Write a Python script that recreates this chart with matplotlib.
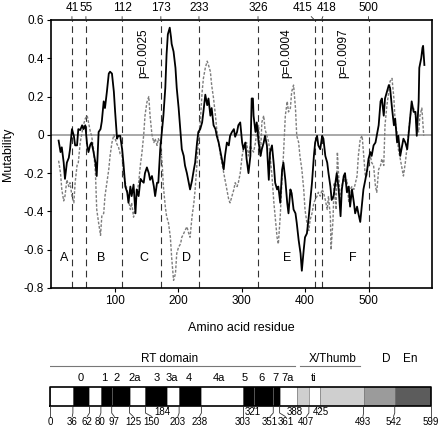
import matplotlib
matplotlib.use('Agg')
import matplotlib.pyplot as plt

plt.rcParams['font.family'] = ['Liberation Sans', 'DejaVu Sans']

# mutability profiles (residue, value)
black_res = [12, 15, 17, 20, 22, 25, 28, 30, 33, 36, 38, 41, 43, 46, 49, 51, 54, 57, 59, 62,
             64, 67, 70, 72, 75, 78, 80, 83, 85, 88, 91, 93, 96, 99, 101, 104, 106, 109, 112, 114,
             117, 120, 122, 125, 127, 130, 133, 135, 138, 141, 143, 146, 148, 151, 154, 156, 159, 162, 164, 167,
             169, 172, 175, 177, 180, 182, 184, 187, 189, 190, 193, 196, 198, 201, 204, 206, 209, 211, 214, 217,
             219, 222, 225, 227, 230, 232, 235, 238, 240, 243, 246, 248, 251, 253, 256, 259, 261, 264, 267, 269,
             272, 274, 277, 280, 282, 285, 288, 290, 293, 295, 298, 301, 303, 306, 308, 311, 314, 316, 318, 319,
             322, 324, 327, 330, 332, 335, 337, 340, 343, 345, 348, 351, 353, 356, 358, 361, 364, 366, 369, 372,
             374, 377, 379, 382, 385, 387, 390, 393, 395, 398, 400, 403, 406, 408, 411, 414, 416, 419, 421, 424,
             427, 429, 432, 435, 437, 440, 442, 445, 448, 450, 453, 456, 458, 461, 463, 466, 469, 471, 474, 477,
             479, 482, 484, 487, 490, 492, 495, 498, 500, 503, 505, 508, 511, 513, 516, 519, 521, 524, 526, 529,
             532, 534, 537, 540, 542, 545, 547, 550, 553, 555, 558, 561, 563, 566, 568, 571, 574, 576, 579, 580,
             583, 585, 586, 588]
black_val = [-0.03, -0.09, -0.065, -0.145, -0.23, -0.145, -0.12, -0.075, 0.03, -0.005, -0.055, -0.055, 0.03, 0.025, 0.05, 0.03, 0.05, -0.055, -0.09, -0.05,
             -0.04, -0.09, -0.145, -0.215, 0.015, 0.03, 0.07, 0.175, 0.14, 0.225, 0.32, 0.33, 0.32, 0.225, 0.12, -0.02, -0.005, -0.005, -0.075, -0.145,
             -0.27, -0.3, -0.355, -0.27, -0.32, -0.26, -0.41, -0.285, -0.32, -0.23, -0.24, -0.25, -0.2, -0.17, -0.2, -0.235, -0.215, -0.27, -0.32, -0.25,
             -0.25, -0.075, 0.03, 0.1, 0.245, 0.42, 0.525, 0.56, 0.51, 0.475, 0.435, 0.35, 0.245, 0.14, 0.015, -0.075, -0.11, -0.16, -0.2, -0.25,
             -0.285, -0.24, -0.18, -0.145, -0.04, 0.015, 0.03, 0.065, 0.12, 0.21, 0.155, 0.19, 0.1, 0.14, 0.05, 0.03, -0.005, -0.04, -0.09, -0.125,
             -0.18, -0.11, -0.04, -0.055, -0.005, 0.015, 0.03, -0.01, 0.015, 0.05, 0.065, -0.04, -0.075, -0.04, -0.125, -0.2, -0.11, 0.19, 0.19, 0.1,
             0.015, 0.065, -0.04, -0.11, -0.075, -0.04, -0.005, -0.055, -0.235, -0.09, -0.055, -0.16, -0.25, -0.285, -0.27, -0.355, -0.18, -0.145, -0.235, -0.355,
             -0.41, -0.285, -0.305, -0.39, -0.41, -0.46, -0.55, -0.62, -0.71, -0.6, -0.535, -0.515, -0.425, -0.355, -0.25, -0.11, -0.04, -0.005, -0.055, -0.075,
             -0.005, -0.02, -0.11, -0.145, -0.2, -0.27, -0.34, -0.32, -0.25, -0.2, -0.285, -0.425, -0.285, -0.215, -0.2, -0.3, -0.27, -0.375, -0.285, -0.355,
             -0.41, -0.375, -0.41, -0.455, -0.355, -0.285, -0.235, -0.18, -0.125, -0.09, -0.11, -0.055, -0.04, -0.005, 0.05, 0.175, 0.19, 0.1, 0.19, 0.225,
             0.26, 0.245, 0.14, 0.05, 0.085, -0.04, -0.005, -0.11, -0.055, -0.02, -0.04, -0.075, -0.005, 0.1, 0.175, 0.12, 0.12, -0.005, 0.175, 0.35,
             0.4, 0.455, 0.465, 0.365]

gray_res = [12, 15, 17, 20, 22, 25, 28, 30, 33, 36, 38, 41, 43, 46, 49, 51, 54, 57, 59, 62,
            64, 67, 70, 72, 75, 78, 80, 83, 85, 88, 91, 93, 96, 99, 101, 104, 106, 109, 112, 114,
            117, 120, 122, 125, 127, 130, 133, 135, 138, 141, 143, 146, 148, 151, 154, 156, 159, 162, 164, 167,
            169, 172, 175, 177, 180, 182, 185, 188, 190, 193, 196, 198, 201, 204, 206, 209, 211, 214, 217, 219,
            222, 225, 227, 230, 232, 235, 238, 240, 243, 246, 248, 251, 253, 256, 259, 261, 264, 267, 269, 272,
            274, 277, 280, 282, 285, 288, 290, 293, 295, 298, 301, 303, 306, 308, 311, 314, 316, 319, 322, 324,
            327, 330, 332, 335, 337, 340, 343, 345, 348, 351, 353, 356, 358, 361, 364, 366, 369, 372, 374, 377,
            379, 382, 385, 387, 390, 392, 395, 398, 400, 403, 406, 408, 411, 414, 416, 419, 421, 424, 427, 429,
            432, 435, 437, 440, 441, 444, 446, 449, 451, 453, 456, 458, 461, 463, 466, 469, 471, 474, 477, 482,
            484, 487, 490, 492, 495, 497, 500, 503, 505, 508, 511, 513, 516, 519, 521, 524, 526, 529, 532, 534,
            537, 540, 542, 545, 547, 550, 553, 555, 558, 561, 563, 566, 568, 571, 574, 576, 579, 581, 584, 587]
gray_val = [-0.135, -0.2, -0.285, -0.345, -0.32, -0.235, -0.27, -0.25, -0.32, -0.355, -0.25, -0.16, -0.145, -0.04, 0.015, 0.05, 0.085, 0.1, 0.065, 0.015,
            -0.005, -0.075, -0.2, -0.39, -0.46, -0.525, -0.425, -0.41, -0.32, -0.25, -0.18, -0.11, -0.04, 0.0, -0.02, -0.05, -0.06, -0.1, -0.11, -0.2,
            -0.25, -0.29, -0.34, -0.39, -0.355, -0.43, -0.37, -0.32, -0.25, -0.15, -0.1, 0.0, 0.1, 0.17, 0.2, 0.1, 0.0, -0.04, -0.02, -0.055,
            -0.02, -0.04, -0.145, -0.27, -0.375, -0.425, -0.46, -0.535, -0.64, -0.76, -0.725, -0.62, -0.585, -0.57, -0.535, -0.515, -0.5, -0.48, -0.515, -0.535,
            -0.43, -0.355, -0.285, -0.145, -0.04, 0.065, 0.225, 0.295, 0.35, 0.385, 0.365, 0.33, 0.26, 0.19, 0.1, 0.03, -0.04, -0.11, -0.145, -0.2,
            -0.235, -0.285, -0.34, -0.355, -0.32, -0.285, -0.25, -0.27, -0.25, -0.2, -0.11, -0.075, -0.055, -0.04, -0.11, -0.055, -0.075, -0.09, -0.04, 0.015,
            0.05, -0.11, 0.065, 0.1, 0.03, -0.005, -0.04, -0.11, -0.215, -0.355, -0.425, -0.535, -0.57, -0.425, -0.215, -0.11, 0.1, 0.175, 0.12, 0.14,
            0.225, 0.26, 0.14, -0.005, -0.04, -0.11, -0.18, -0.285, -0.39, -0.46, -0.5, -0.445, -0.41, -0.355, -0.34, -0.32, -0.3, -0.32, -0.285, -0.3,
            -0.34, -0.39, -0.32, -0.43, -0.6, -0.45, -0.25, -0.39, -0.09, -0.215, -0.355, -0.27, -0.215, -0.25, -0.235, -0.355, -0.285, -0.27, -0.285, -0.215,
            -0.11, -0.02, -0.005, -0.09, -0.215, -0.215, -0.145, -0.11, -0.145, -0.16, -0.27, -0.3, -0.18, -0.16, -0.125, -0.16, 0.05, 0.155, 0.225, 0.28,
            0.295, 0.19, 0.065, 0.015, -0.075, -0.125, -0.18, -0.215, -0.145, -0.055, 0.015, 0.1, 0.155, 0.14, 0.1, 0.05, 0.015, 0.1, 0.14, -0.005]

# boundaries marked with dashed lines, and the labels printed above them
site_pos = [33, 55, 112, 173, 233, 326, 415, 426, 500]
site_labels = ['41', '55', '112', '173', '233', '326', '415', '418', '500']
site_shift = [0, 0, 0, 0, 0, 0, -8.5, 3.5, 0]

region_names = ['A', 'B', 'C', 'D', 'E', 'F']
region_x = [20, 79, 146, 214, 372, 476]

pvals = ['p=0.0025', 'p=0.0004', 'p=0.0097']
pval_x = [146, 371, 460]

yticks = [-0.8, -0.6, -0.4, -0.2, 0, 0.2, 0.4, 0.6]
ytick_labels = ['-0.8', '-0.6', '-0.4', '-0.2', '0', '0.2', '0.4', '0.6']

# domain map
seg_edges = [0, 36, 62, 80, 97, 125, 150, 184, 203, 238, 303, 321, 351, 361, 388, 407, 425, 493, 542, 599]
seg_fill = ['white', 'black', 'white', 'black', 'black', 'white', 'black', 'white', 'black', 'white',
            'black', 'black', 'black', 'white', '#cfcfcf', 'white', '#cfcfcf', '#9b9b9b', '#5c5c5c']
edge_label_x = [0, 35, 58.5, 78, 101, 131, 160, 177, 201, 235, 303, 318, 346, 370, 385, 403, 426, 492, 540, 599]
raised = [184, 321, 388, 425]

motif_names = ['0', '1', '2', '2a', '3', '3a', '4', '4a', '5', '6', '7', '7a', 'ti']
motif_x = [48, 86, 104, 133, 167, 192, 218, 266, 306, 333, 354, 374, 415]

headers = ['RT domain', 'X/Thumb', 'D', 'En']
header_x = [188, 444, 529, 567]
header_spans = [(0, 385), (393, 488)]

fig = plt.figure(figsize=(4.4, 4.29), dpi=100)

ax = fig.add_axes([51 / 440, 1 - 288 / 429, 381 / 440, 268 / 429])
ax.axhline(0, color='#999999', lw=1.2, zorder=1)
for p in site_pos:
    ax.axvline(p, color='#333333', lw=0.8, ls=(0, (6, 4)), zorder=2)
ax.plot(gray_res, gray_val, color='#7d7d7d', lw=1.0, ls=(0, (2, 1.2)), zorder=3)
ax.plot(black_res, black_val, color='black', lw=1.3, zorder=4)

ax.set_xlim(0, 600)
ax.set_ylim(-0.8, 0.6)
ax.set_xticks([100, 200, 300, 400, 500])
ax.set_yticks(yticks)
ax.set_yticklabels(ytick_labels)
ax.tick_params(direction='out', length=3, width=0.8, labelsize=8.5, pad=2)
for s in ax.spines.values():
    s.set_linewidth(1.2)

for p, lab, sh in zip(site_pos, site_labels, site_shift):
    ax.annotate(lab, xy=(p, 1), xycoords=('data', 'axes fraction'), xytext=(sh, 4.5),
                textcoords='offset points', ha='center', va='bottom', fontsize=8.5,
                arrowprops=dict(arrowstyle='-', lw=0.6, color='#333333', shrinkA=0, shrinkB=0))

for name, x in zip(region_names, region_x):
    ax.text(x, -0.645, name, ha='center', va='center', fontsize=9)
for txt, x in zip(pvals, pval_x):
    ax.text(x, 0.425, txt, rotation=90, ha='center', va='center', fontsize=8.5)

ax.set_xlabel('Amino acid residue', fontsize=9, labelpad=11)
ax.set_ylabel('Mutability', fontsize=9)
ax.yaxis.set_label_coords(-0.098, 0.5)

# domain organisation below the profile
dx = fig.add_axes([50 / 440, 0, 381 / 440, 84 / 429])
dx.set_xlim(0, 599)
dx.set_ylim(0, 84)
dx.axis('off')

box_lo, box_hi = 23, 42
for a, b, c in zip(seg_edges[:-1], seg_edges[1:], seg_fill):
    dx.fill_between([a, b], box_lo, box_hi, color=c, lw=0)
    dx.plot([a, a], [box_lo, box_hi], color='#777777', lw=0.5)
dx.plot([0, 599, 599, 0, 0], [box_lo, box_lo, box_hi, box_hi, box_lo], color='black', lw=1.2, clip_on=False)

for e, lx in zip(seg_edges, edge_label_x):
    if e in raised:
        dx.plot([e, e], [box_lo, 21.5], color='#333333', lw=0.6, clip_on=False)
        dx.text(lx, 17.3, str(e), ha='center', va='center', fontsize=7)
    else:
        dx.plot([e, e, lx], [box_lo, 16, 12.5], color='#333333', lw=0.6, clip_on=False)
        dx.text(lx, 7.3, str(e), ha='center', va='center', fontsize=7, clip_on=False)

for name, x in zip(motif_names, motif_x):
    dx.text(x, 50.7, name, ha='center', va='center', fontsize=8)

for name, x in zip(headers, header_x):
    dx.text(x, 69.7, name, ha='center', va='center', fontsize=8.5)
for a, b in header_spans:
    dx.plot([a, b], [63.3, 63.3], color='#777777', lw=0.8)

fig.savefig('out.png', dpi=100)
